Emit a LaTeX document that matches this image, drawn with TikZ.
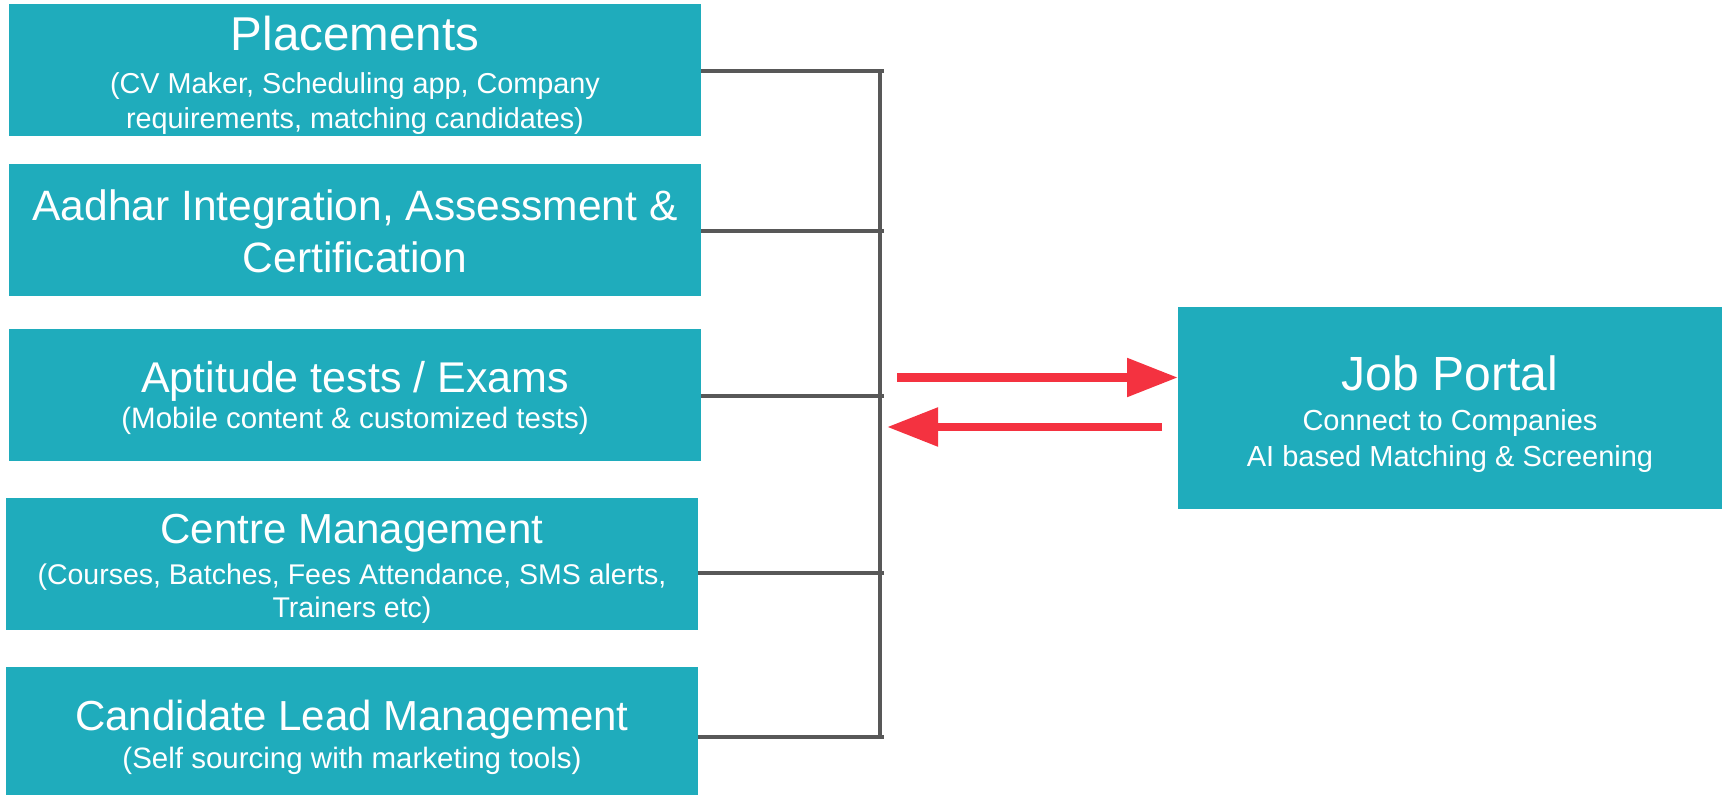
\documentclass[tikz,border=0pt]{standalone}
\usepackage{fontspec}
\setmainfont{Liberation Sans}
\usetikzlibrary{arrows.meta,calc}
\definecolor{teal1}{RGB}{31,172,188}
\definecolor{redarr}{RGB}{244,50,64}
\definecolor{grayline}{RGB}{88,88,88}
\newcommand\fz[1]{\fontsize{#1}{#1}\selectfont}
\tikzset{
  box/.style={fill=teal1, draw=none, inner sep=0pt, anchor=north west},
  txt/.style={text=white, inner sep=0pt, anchor=base},
  ttl/.style={txt, font=\fz{42.5}},
  sub/.style={txt, font=\fz{29.5}},
  link/.style={draw=grayline, line width=3.5pt},
  bigarrow/.style={draw=redarr, line width=8.5pt, -{Triangle[length=51pt,width=37pt]}}
}
\begin{document}
\begin{tikzpicture}[x=1pt,y=-1pt]
\useasboundingbox (0,0) rectangle (1725,795);
% boxes
\node[box, minimum width=692pt, minimum height=132pt] (b1) at (9,4) {};
\node[box, minimum width=692pt, minimum height=132pt] (b2) at (9,164) {};
\node[box, minimum width=692pt, minimum height=132pt] (b3) at (9,329) {};
\node[box, minimum width=692pt, minimum height=132pt] (b4) at (6,498) {};
\node[box, minimum width=692pt, minimum height=128pt] (b5) at (6,667) {};
\node[box, minimum width=544pt, minimum height=202pt] (job) at (1178,307) {};
% texts
\node[ttl, font=\fz{47.5}] (b1t) at (355,50) {Placements};
\node[sub, font=\fz{28.8}] (b1s1) at (355,93) {(CV Maker, Scheduling app, Company};
\node[sub, font=\fz{28.8}] (b1s2) at (355,128) {requirements, matching candidates)};
\node[ttl] (b2t1) at (355,220) {Aadhar Integration, Assessment \&};
\node[ttl] (b2t2) at (355,272) {Certification};
\node[ttl, font=\fz{43}] (b3t) at (355,392) {Aptitude tests / Exams};
\node[sub] (b3s) at (355,428) {(Mobile content \& customized tests)};
\node[ttl, font=\fz{42}] (b4t) at (352,543) {Centre Management};
\node[sub, font=\fz{28.5}] (b4s1) at (352,584) {(Courses, Batches, Fees Attendance, SMS alerts,};
\node[sub, font=\fz{28.5}] (b4s2) at (352,617) {Trainers etc)};
\node[ttl, font=\fz{42}] (b5t) at (352,730) {Candidate Lead Management};
\node[sub] (b5s) at (352,768) {(Self sourcing with marketing tools)};
\node[ttl, font=\fz{48}] (jobt) at (1450,390) {Job Portal};
\node[sub, font=\fz{29}] (jobs1) at (1450,430) {Connect to Companies};
\node[sub, font=\fz{29}] (jobs2) at (1450,466) {AI based Matching \& Screening};
% bracket
\coordinate (j1) at (884,71);
\coordinate (j2) at (884,231);
\coordinate (j3) at (884,396);
\coordinate (j4) at (884,573);
\coordinate (j5) at (884,737);
\coordinate (vt) at (880,71);
\coordinate (vb) at (880,737);
\draw[link] (b1.east |- j1) -- (j1);
\draw[link] (b2.east |- j2) -- (j2);
\draw[link] (b3.east |- j3) -- (j3);
\draw[link] (b4.east |- j4) -- (j4);
\draw[link] (b5.east |- j5) -- (j5);
\draw[link] (vt) -- (vb);
% arrows
\coordinate (r1) at (897,377.5);
\draw[bigarrow] (r1) -- (job.west |- r1);
\coordinate (l1) at (1162,427);
\coordinate (l2) at (887,427);
\draw[bigarrow] (l1) -- (l2);
\end{tikzpicture}
\end{document}
